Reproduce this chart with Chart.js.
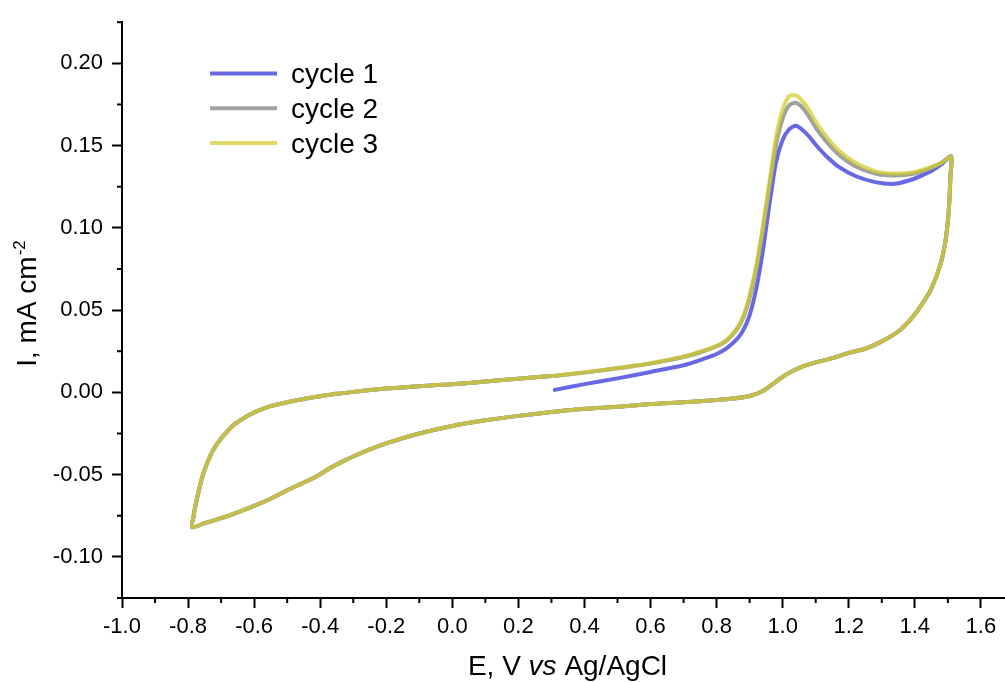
<!DOCTYPE html>
<html>
<head>
<meta charset="utf-8">
<title>CV cycles</title>
<script src="https://cdn.jsdelivr.net/npm/chart.js@4.4.1/dist/chart.umd.min.js"></script>
<style>
  html, body { margin: 0; padding: 0; background: #fff; }
  #wrap { position: relative; width: 1005px; height: 682px; }
</style>
</head>
<body>
<div id="wrap"><canvas id="cv"></canvas></div>
<script>
// anodic sweep 0.31 -> 1.51 V (same potentials for every cycle)
const anodicE = [0.31, 0.40, 0.50, 0.60, 0.70, 0.76, 0.80, 0.83, 0.86, 0.88, 0.90, 0.92, 0.94, 0.96, 0.98,
  1.00, 1.02, 1.04, 1.06, 1.08, 1.10, 1.13, 1.17, 1.22, 1.28, 1.34, 1.40, 1.45, 1.48, 1.51];
const anodicI1 = [0.0015, 0.0050, 0.0085, 0.0124, 0.0165, 0.0203, 0.0233, 0.0268, 0.0320, 0.0375, 0.0470, 0.0630, 0.0860, 0.1145, 0.1400,
  0.1535, 0.1600, 0.1620, 0.1595, 0.1555, 0.1505, 0.1440, 0.1370, 0.1315, 0.1278, 0.1268, 0.1300, 0.1345, 0.1385, 0.1435];
const anodicI2 = [0.0100, 0.0120, 0.0146, 0.0175, 0.0215, 0.0250, 0.0280, 0.0314, 0.0378, 0.0450, 0.0575, 0.0755, 0.0985, 0.1250, 0.1505,
  0.1665, 0.1745, 0.1760, 0.1730, 0.1675, 0.1610, 0.1530, 0.1445, 0.1375, 0.1330, 0.1318, 0.1330, 0.1365, 0.1395, 0.1435];
const anodicI3 = [0.0102, 0.0122, 0.0148, 0.0177, 0.0218, 0.0253, 0.0283, 0.0318, 0.0385, 0.0460, 0.0590, 0.0770, 0.1010, 0.1280, 0.1550,
  0.1720, 0.1800, 0.1805, 0.1770, 0.1715, 0.1645, 0.1560, 0.1470, 0.1395, 0.1345, 0.1330, 0.1340, 0.1370, 0.1395, 0.1430];

// cathodic sweep 1.51 -> -0.79 V (cycles overlap)
const cathodicE = [1.508, 1.505, 1.500, 1.492, 1.478, 1.45, 1.42, 1.39, 1.35, 1.30, 1.25, 1.20, 1.15, 1.10, 1.06, 1.03,
  1.00, 0.97, 0.94, 0.90, 0.85, 0.80, 0.70, 0.60, 0.50, 0.40, 0.30, 0.20, 0.10, 0.00, -0.10, -0.20, -0.25, -0.30,
  -0.33, -0.37, -0.40, -0.43, -0.46, -0.50, -0.55, -0.60, -0.65, -0.70, -0.75, -0.788];
const cathodicI = [0.132, 0.118, 0.104, 0.091, 0.078, 0.063, 0.053, 0.045, 0.037, 0.031, 0.0265, 0.0240, 0.0208, 0.0182, 0.0157, 0.0130,
  0.0095, 0.0050, 0.0008, -0.0022, -0.0038, -0.0047, -0.0060, -0.0071, -0.0088, -0.0100, -0.0120, -0.0143, -0.0170, -0.0204, -0.0250, -0.0310, -0.0347, -0.0390,
  -0.0418, -0.0460, -0.0498, -0.0530, -0.0558, -0.0595, -0.0647, -0.0690, -0.0729, -0.0765, -0.0795, -0.0820];

// return sweep -0.79 -> 0.30 V
const returnE = [-0.784, -0.779, -0.773, -0.763, -0.753, -0.738, -0.723, -0.70, -0.68, -0.66, -0.63, -0.60, -0.55, -0.50,
  -0.45, -0.40, -0.35, -0.30, -0.25, -0.20, -0.15, -0.10, -0.05, 0.00, 0.05, 0.10, 0.20, 0.30];
const returnI = [-0.0760, -0.0700, -0.0645, -0.0560, -0.0488, -0.0410, -0.0347, -0.0280, -0.0235, -0.0195, -0.0155, -0.0122, -0.0084, -0.0060,
  -0.0040, -0.0024, -0.0009, 0.0003, 0.0014, 0.0023, 0.0030, 0.0037, 0.0044, 0.0050, 0.0057, 0.0066, 0.0083, 0.0100];

const cycleLabels = ['cycle 1', 'cycle 2', 'cycle 3'];
const cycleColors = ['rgb(104,104,226)', 'rgb(160,160,160)', 'rgba(208,203,40,0.72)'];

const xMajorTicks = [-1.0, -0.8, -0.6, -0.4, -0.2, 0.0, 0.2, 0.4, 0.6, 0.8, 1.0, 1.2, 1.4, 1.6];
const xMinorTicks = [-0.9, -0.7, -0.5, -0.3, -0.1, 0.1, 0.3, 0.5, 0.7, 0.9, 1.1, 1.3, 1.5];
const yMajorTicks = [-0.10, -0.05, 0.00, 0.05, 0.10, 0.15, 0.20];
const yMinorTicks = [-0.125, -0.075, -0.025, 0.025, 0.075, 0.125, 0.175, 0.225];

const FONT = '"Liberation Sans", Arial, sans-serif';

function toPoints(es, is) {
  return es.map((e, k) => ({ x: e, y: is[k] }));
}

function cyclePoints(anodicI) {
  return [
    ...toPoints(anodicE, anodicI),
    ...toPoints(cathodicE, cathodicI),
    ...toPoints(returnE, returnI),
  ];
}

const cycles = [anodicI1, anodicI2, anodicI3].map((a, k) => ({
  label: cycleLabels[k],
  data: cyclePoints(a),
  showLine: true,
  borderColor: cycleColors[k],
  backgroundColor: cycleColors[k],
  borderWidth: 4,
  borderCapStyle: 'round',
  borderJoinStyle: 'round',
  pointRadius: 0,
  tension: 0.25,
  fill: false,
  order: 3 - k,   // cycle 3 drawn on top
}));

// minor ticks, axis titles and legend
const decorPlugin = {
  id: 'decor',
  afterDraw(chart) {
    const ctx = chart.ctx;
    const xs = chart.scales.x, ys = chart.scales.y;
    const area = chart.chartArea;
    ctx.save();
    ctx.strokeStyle = '#000';
    ctx.lineWidth = 2;
    xMinorTicks.forEach(v => {
      const px = xs.getPixelForValue(v);
      ctx.beginPath();
      ctx.moveTo(px, area.bottom);
      ctx.lineTo(px, area.bottom + 5);
      ctx.stroke();
    });
    yMinorTicks.forEach(v => {
      const py = ys.getPixelForValue(v);
      ctx.beginPath();
      ctx.moveTo(area.left, py);
      ctx.lineTo(area.left - 5, py);
      ctx.stroke();
    });

    // x title with italic "vs"
    ctx.fillStyle = '#000';
    ctx.textBaseline = 'alphabetic';
    const parts = [['E, V ', 'normal'], ['vs', 'italic'], [' Ag/AgCl', 'normal']];
    let total = 0;
    parts.forEach(p => { ctx.font = `${p[1]} 28px ${FONT}`; total += ctx.measureText(p[0]).width; });
    let tx = (area.left + area.right) / 2 + 4 - total / 2;
    parts.forEach(p => {
      ctx.font = `${p[1]} 28px ${FONT}`;
      ctx.fillText(p[0], tx, 675);
      tx += ctx.measureText(p[0]).width;
    });

    // y title with superscript
    ctx.save();
    ctx.translate(36, 304);
    ctx.rotate(-Math.PI / 2);
    ctx.font = `28px ${FONT}`;
    const main = 'I, mA cm';
    const wMain = ctx.measureText(main).width;
    ctx.font = `17px ${FONT}`;
    const wSup = ctx.measureText('-2').width;
    const start = -(wMain + wSup) / 2;
    ctx.font = `28px ${FONT}`;
    ctx.fillText(main, start, 0);
    ctx.font = `17px ${FONT}`;
    ctx.fillText('-2', start + wMain + 1, -11);
    ctx.restore();

    // legend
    chart.data.datasets.forEach((ds, k) => {
      const ly = 73.5 + k * 34.8;
      ctx.strokeStyle = ds.borderColor;
      ctx.lineWidth = 4;
      ctx.beginPath();
      ctx.moveTo(210, ly);
      ctx.lineTo(277, ly);
      ctx.stroke();
      ctx.fillStyle = '#000';
      ctx.font = `28px ${FONT}`;
      ctx.fillText(ds.label, 291, ly + 9.8);
    });
    ctx.restore();
  }
};

new Chart(document.getElementById('cv'), {
  type: 'scatter',
  data: { datasets: cycles },
  options: {
    responsive: true,
    maintainAspectRatio: false,
    animation: false,
    layout: { padding: { top: 15, right: 0, left: 0, bottom: 0 } },
    plugins: { legend: { display: false }, tooltip: { enabled: false } },
    scales: {
      x: {
        type: 'linear',
        min: -1.0,
        max: 1.673,
        afterBuildTicks: s => { s.ticks = xMajorTicks.map(v => ({ value: v })); },
        afterFit: s => { s.height = 84; },
        ticks: {
          color: '#000',
          font: { family: FONT, size: 22 },
          padding: 6,
          maxRotation: 0,
          autoSkip: false,
          callback: v => Number(v).toFixed(1),
        },
        grid: { drawOnChartArea: false, drawTicks: true, tickLength: 10, tickWidth: 2, tickColor: '#000' },
        border: { display: true, color: '#000', width: 2 },
      },
      y: {
        type: 'linear',
        min: -0.125,
        max: 0.225,
        afterBuildTicks: s => { s.ticks = yMajorTicks.map(v => ({ value: v })); },
        afterFit: s => { s.width = 122; },
        ticks: {
          color: '#000',
          font: { family: FONT, size: 22 },
          padding: 9,
          autoSkip: false,
          callback: v => Number(v).toFixed(2),
        },
        grid: { drawOnChartArea: false, drawTicks: true, tickLength: 10, tickWidth: 2, tickColor: '#000' },
        border: { display: true, color: '#000', width: 2 },
      },
    },
  },
  plugins: [decorPlugin],
});
</script>
</body>
</html>
